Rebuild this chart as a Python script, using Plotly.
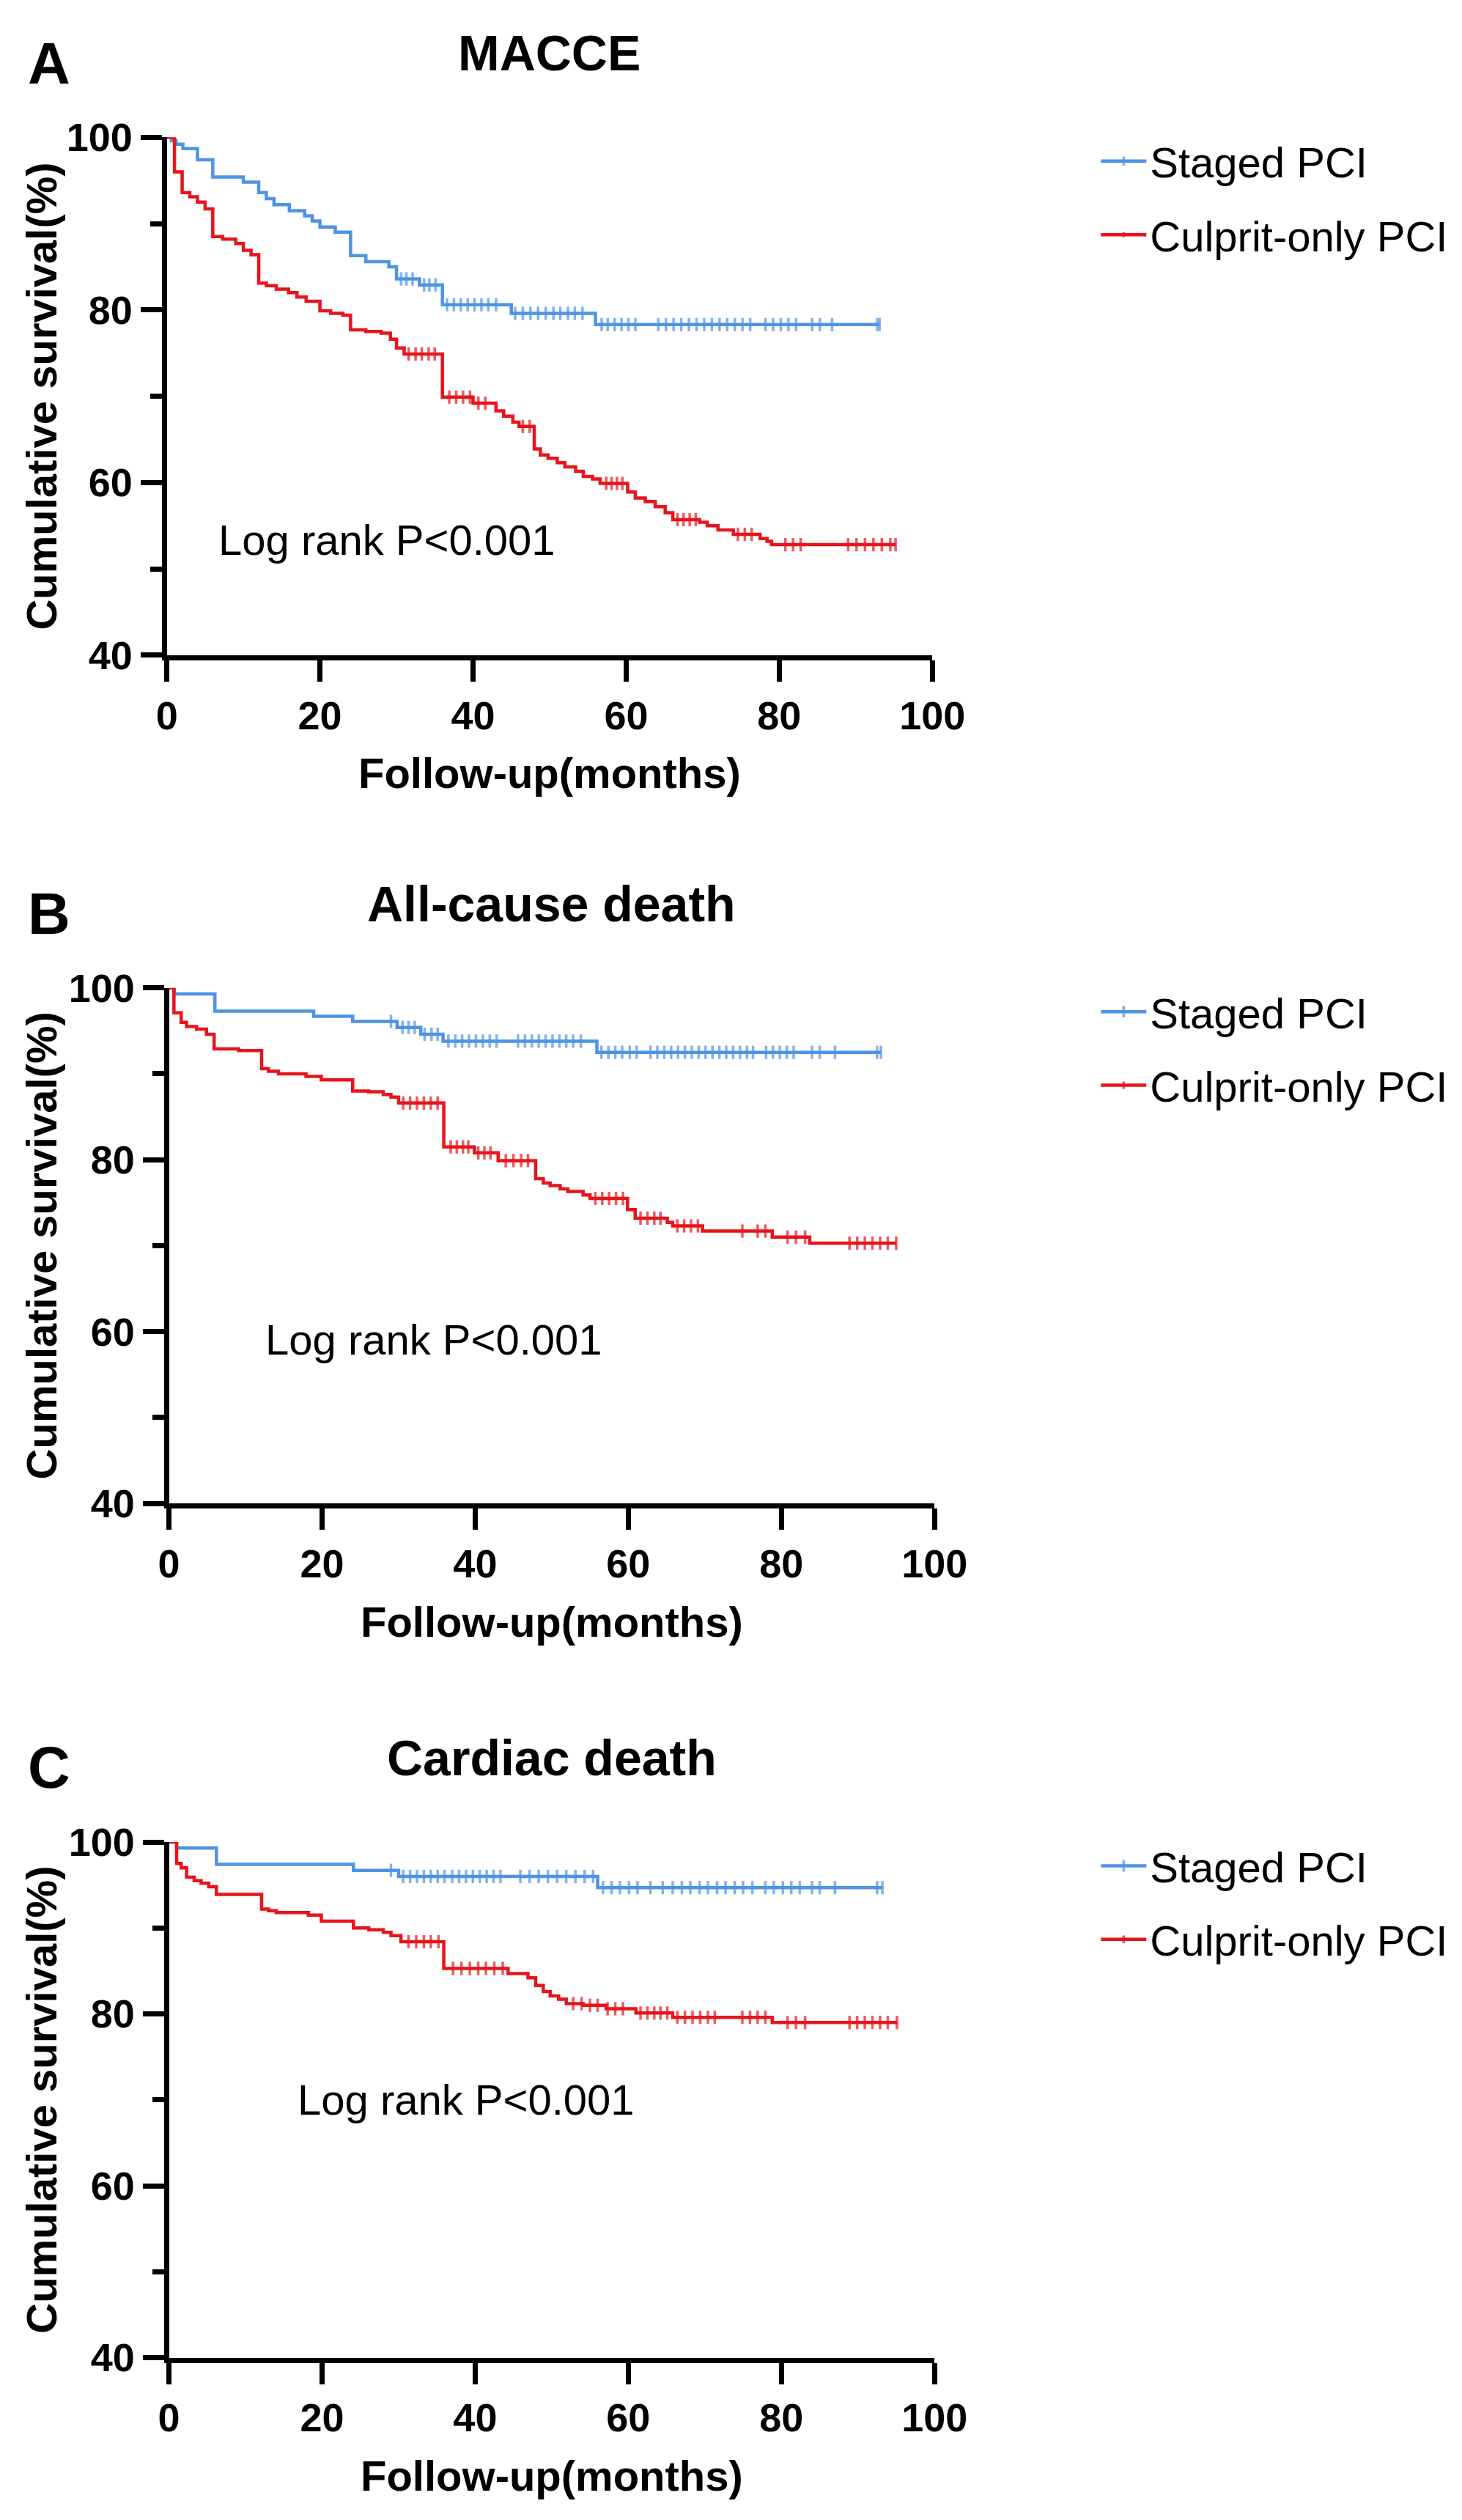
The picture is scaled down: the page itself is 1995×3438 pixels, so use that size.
import plotly.graph_objects as go

# ---- data (time in months, survival in %) ----
# A: MACCE
macce_staged_t = [0.6, 1.2, 2.1, 4.0, 6.0, 10.0, 12.0, 13.0, 14.0, 16.0, 18.0, 19.0, 20.0, 22.0,
                  24.0, 26.0, 29.0, 30.0, 33.0, 36.0, 45.0, 56.0]
macce_staged_s = [99.6, 99.2, 98.7, 97.4, 95.4, 94.8, 93.6, 92.9, 92.2, 91.5, 90.9, 90.3, 89.6, 89.0,
                  86.3, 85.6, 85.0, 83.6, 82.9, 80.6, 79.6, 78.3]
macce_staged_c = [30.6, 31.3, 32.1, 33.6, 34.3, 35.1, 36.6, 37.5, 38.4, 39.3, 40.2, 41.1, 42.0, 43.0,
                  45.5, 46.5, 47.5, 48.5, 49.5, 50.5, 51.4, 52.4, 53.3, 54.3, 56.8, 57.6, 58.5, 59.4,
                  60.3, 61.2, 64.2, 65.2, 66.2, 67.2, 68.2, 69.2, 70.2, 71.2, 72.2, 73.2, 74.2, 75.2,
                  76.2, 78.2, 79.2, 80.2, 81.2, 82.2, 84.3, 85.3, 86.9, 92.8, 93.1]
macce_culprit_t = [1.0, 2.0, 3.0, 4.0, 5.0, 6.0, 7.3, 9.0, 10.0, 11.0, 12.0, 13.0, 14.3, 15.9, 17.0,
                   18.2, 20.0, 21.4, 23.0, 24.0, 26.0, 28.0, 29.2, 30.0, 31.0, 36.0, 40.0, 43.0, 44.0,
                   45.2, 46.0, 48.0, 48.8, 49.8, 51.0, 52.0, 53.4, 54.4, 55.6, 56.6, 60.2, 61.2, 62.5,
                   63.8, 65.1, 66.1, 69.6, 70.6, 72.0, 74.0, 77.5, 78.4, 79.0]
macce_culprit_s = [96.0, 93.6, 93.1, 92.5, 91.7, 88.5, 88.2, 87.7, 86.9, 86.4, 83.1, 82.8, 82.4, 82.0,
                   81.5, 81.0, 79.9, 79.6, 79.4, 77.7, 77.5, 77.3, 76.6, 75.6, 74.9, 69.9, 69.2, 68.3,
                   67.7, 67.0, 66.5, 63.9, 63.2, 62.8, 62.3, 61.8, 61.3, 60.7, 60.4, 59.9, 58.9, 58.2,
                   57.8, 57.2, 56.5, 55.7, 55.4, 55.0, 54.5, 54.0, 53.5, 53.2, 52.8]
macce_culprit_c = [31.6, 32.5, 33.3, 34.2, 35.0, 36.9, 37.8, 38.7, 39.6, 40.7, 41.6, 46.5, 47.4, 57.4,
                   58.1, 58.8, 59.5, 66.7, 67.5, 68.3, 69.1, 74.6, 75.5, 76.4, 80.8, 81.8, 82.8, 89.0,
                   90.1, 91.2, 92.3, 93.4, 94.5, 95.2]

# B: All-cause death
death_staged_t = [0.7, 6.0, 18.9, 24.0, 29.8, 32.9, 35.8, 55.9]
death_staged_s = [99.3, 97.3, 96.7, 96.1, 95.4, 94.6, 93.8, 92.5]
death_staged_c = [29.0, 30.5, 31.3, 32.1, 33.4, 34.3, 35.1, 36.5, 37.4, 38.3, 39.2, 40.1, 41.0, 41.9,
                  42.8, 45.6, 46.5, 47.4, 48.3, 49.2, 50.1, 51.0, 51.9, 52.8, 53.8, 56.5, 57.4, 58.3,
                  59.2, 60.2, 61.1, 62.9, 63.8, 64.7, 65.6, 66.5, 67.4, 68.3, 69.2, 70.1, 71.0, 71.9,
                  72.8, 73.7, 74.6, 75.5, 76.3, 78.0, 78.9, 79.8, 80.7, 81.6, 84.0, 85.0, 87.0, 92.5,
                  93.0]
death_culprit_t = [0.65, 1.6, 2.3, 3.6, 4.9, 5.9, 9.1, 12.1, 13.0, 14.3, 17.9, 19.9, 24.0, 26.1, 28.0,
                   29.0, 30.0, 35.9, 39.9, 43.0, 47.9, 48.9, 49.8, 51.1, 52.1, 54.1, 55.0, 59.9, 60.9,
                   65.1, 65.8, 69.7, 78.8, 83.7]
death_culprit_s = [97.1, 96.0, 95.5, 95.2, 94.6, 92.9, 92.7, 90.6, 90.3, 90.0, 89.7, 89.3, 88.0, 87.9,
                   87.6, 87.3, 86.6, 81.5, 80.8, 79.9, 77.8, 77.3, 77.0, 76.6, 76.3, 75.9, 75.5, 74.2,
                   73.2, 72.7, 72.3, 71.7, 71.0, 70.3]
death_culprit_c = [30.6, 31.5, 32.4, 33.3, 34.2, 35.1, 36.8, 37.6, 38.4, 39.1, 40.4, 41.2, 42.0, 44.0,
                   45.0, 46.0, 46.9, 55.7, 56.6, 57.5, 58.4, 59.3, 61.6, 62.5, 63.4, 64.2, 66.4, 67.3,
                   68.2, 69.1, 74.9, 76.9, 77.9, 80.8, 81.9, 83.1, 88.9, 89.9, 90.9, 91.9, 92.9, 93.9,
                   95.0]

# C: Cardiac death
cardiac_staged_t = [1.0, 6.2, 24.1, 30.0, 56.0]
cardiac_staged_s = [99.3, 97.4, 96.7, 96.0, 94.7]
cardiac_staged_c = [29.0, 30.6, 31.5, 32.4, 33.3, 34.2, 35.1, 36.0, 37.0, 37.9, 38.8, 39.7, 40.6, 41.5,
                    42.4, 43.3, 45.9, 47.1, 48.3, 49.5, 50.7, 51.9, 53.1, 54.3, 55.4, 56.7, 57.8, 58.9,
                    60.1, 61.2, 62.9, 64.5, 65.8, 67.0, 68.1, 69.3, 70.4, 71.6, 72.7, 73.9, 75.0, 76.2,
                    77.9, 79.0, 80.2, 81.3, 82.4, 84.0, 85.0, 87.0, 92.5, 93.2]
cardiac_culprit_t = [1.0, 1.6, 2.3, 3.3, 4.2, 5.2, 6.2, 12.1, 13.0, 14.0, 18.2, 19.9, 24.1, 26.1, 28.0,
                     29.0, 30.3, 35.9, 44.3, 46.9, 47.9, 48.9, 49.8, 50.9, 51.9, 54.1, 57.1, 61.0, 65.8,
                     78.8]
cardiac_culprit_s = [97.5, 97.0, 95.9, 95.5, 95.2, 94.8, 93.9, 92.2, 92.0, 91.8, 91.5, 90.8, 90.0, 89.8,
                     89.5, 89.1, 88.4, 85.3, 84.7, 84.2, 83.3, 82.6, 82.1, 81.7, 81.2, 81.0, 80.6, 80.1,
                     79.6, 79.0]
cardiac_culprit_c = [31.3, 32.3, 33.3, 34.2, 35.2, 37.1, 38.2, 39.3, 40.4, 41.4, 42.5, 43.6, 52.8, 53.9,
                     55.0, 56.0, 57.3, 58.3, 59.3, 61.6, 62.5, 63.4, 64.2, 65.1, 66.4, 67.4, 68.4, 69.4,
                     70.4, 71.3, 74.9, 75.9, 76.9, 77.9, 80.8, 81.9, 83.1, 88.9, 89.9, 90.9, 91.9, 92.9,
                     93.9, 95.1]

panel_titles = ["MACCE", "All-cause death", "Cardiac death"]
panel_letters = ["A", "B", "C"]
group_names = ["Staged PCI", "Culprit-only PCI"]
x_ticks = [0, 20, 40, 60, 80, 100]
y_ticks = [40, 60, 80, 100]
logrank_text = "Log rank P<0.001"
logrank_pos = [(6.5, 53.4), (12.4, 59.1), (16.6, 70.0)]

panels = [
    [(macce_staged_t, macce_staged_s, macce_staged_c),
     (macce_culprit_t, macce_culprit_s, macce_culprit_c)],
    [(death_staged_t, death_staged_s, death_staged_c),
     (death_culprit_t, death_culprit_s, death_culprit_c)],
    [(cardiac_staged_t, cardiac_staged_s, cardiac_staged_c),
     (cardiac_culprit_t, cardiac_culprit_s, cardiac_culprit_c)],
]

# ---- page geometry (pixels of a 1995 x 3438 page) ----
W, H = 1995, 3438
colors = ["#4F94E3", "#E8141C"]
FONT = "Liberation Sans, Arial, sans-serif"
plot_px = [  # left, right, top(y=100), bottom(y=40)
    (211, 1288, 152, 871),
    (214, 1291, 1333, 2049),
    (214, 1291, 2519, 3235),
]


def px(xp):
    return xp / W


def py(yp):
    return 1 - yp / H


def km_points(t, s, c):
    # step curve points with censor ticks flagged by marker size
    pts = [(0.0, 100.0, 0)]
    pts += [(ti, si, 0) for ti, si in zip(t, s)]
    for ci in c:
        level = 100.0
        for ti, si in zip(t, s):
            if ti <= ci:
                level = si
        pts.append((ci, level, 13))
    pts.sort(key=lambda p: p[0])
    return [p[0] for p in pts], [p[1] for p in pts], [p[2] for p in pts]


def note(text, x, y, size, bold=True, angle=0):
    return dict(text=text, x=x, y=y, xref="paper", yref="paper", xanchor="center",
                yanchor="middle", textangle=angle, showarrow=False,
                font=dict(family=FONT, size=size, color="black",
                          weight="bold" if bold else "normal"))


fig = go.Figure()
annotations = []
layout = {}

for i, curves in enumerate(panels):
    n = "" if i == 0 else str(i + 1)
    leg = "legend" + n
    for j, (t, s, c) in enumerate(curves):
        xs, ys, ms = km_points(t, s, c)
        fig.add_trace(go.Scatter(
            x=xs, y=ys, mode="lines+markers", name=group_names[j],
            line=dict(color=colors[j], width=4.5, shape="hv"),
            marker=dict(symbol="line-ns", size=ms, color=colors[j],
                        line=dict(color=colors[j], width=3.5)),
            xaxis="x" + n, yaxis="y" + n, legend=leg, legendgroup=f"{i}-{j}",
        ))

    l, r, top, bot = plot_px[i]
    layout["xaxis" + n] = dict(
        domain=[px(l), px(r)], range=[0, 100], anchor="y" + n,
        tickvals=x_ticks, ticks="outside", ticklen=29, tickwidth=7, tickcolor="black",
        showline=True, linewidth=7, linecolor="black", showgrid=False, zeroline=False,
        tickfont=dict(family=FONT, size=54, color="black", weight="bold"),
    )
    layout["yaxis" + n] = dict(
        domain=[py(bot), py(top)], range=[40, 100], anchor="x" + n,
        tickvals=y_ticks, ticks="outside", ticklen=29, tickwidth=7, tickcolor="black",
        showline=True, linewidth=7, linecolor="black", showgrid=False, zeroline=False,
        tickfont=dict(family=FONT, size=54, color="black", weight="bold"),
        minor=dict(tickvals=[50, 70, 90], ticks="outside", ticklen=16, tickwidth=7,
                   tickcolor="black"),
    )
    layout[leg] = dict(
        x=px(1520), y=py(top - 12), xanchor="left", yanchor="top",
        font=dict(family=FONT, size=58, color="black"), itemwidth=62,
        bgcolor="rgba(0,0,0,0)", tracegroupgap=22, traceorder="grouped",
    )

    annotations += [
        note(panel_letters[i], px(45), py(top - 103), 80),
        note(panel_titles[i], px((l + r) / 2), py(top - 117), 68),
        note("Cumulative survival(%)", px(35), py((top + bot) / 2), 58, angle=-90),
        note("Follow-up(months)", px((l + r) / 2), py(bot + 164), 58),
        dict(text=logrank_text, x=logrank_pos[i][0], y=logrank_pos[i][1], xref="x" + n,
             yref="y" + n, xanchor="left", yanchor="middle", showarrow=False,
             font=dict(family=FONT, size=58, color="black")),
    ]

fig.update_layout(
    width=W, height=H, margin=dict(l=0, r=0, t=0, b=0),
    plot_bgcolor="white", paper_bgcolor="white",
    annotations=annotations, **layout,
)

fig.write_html("out.html")
